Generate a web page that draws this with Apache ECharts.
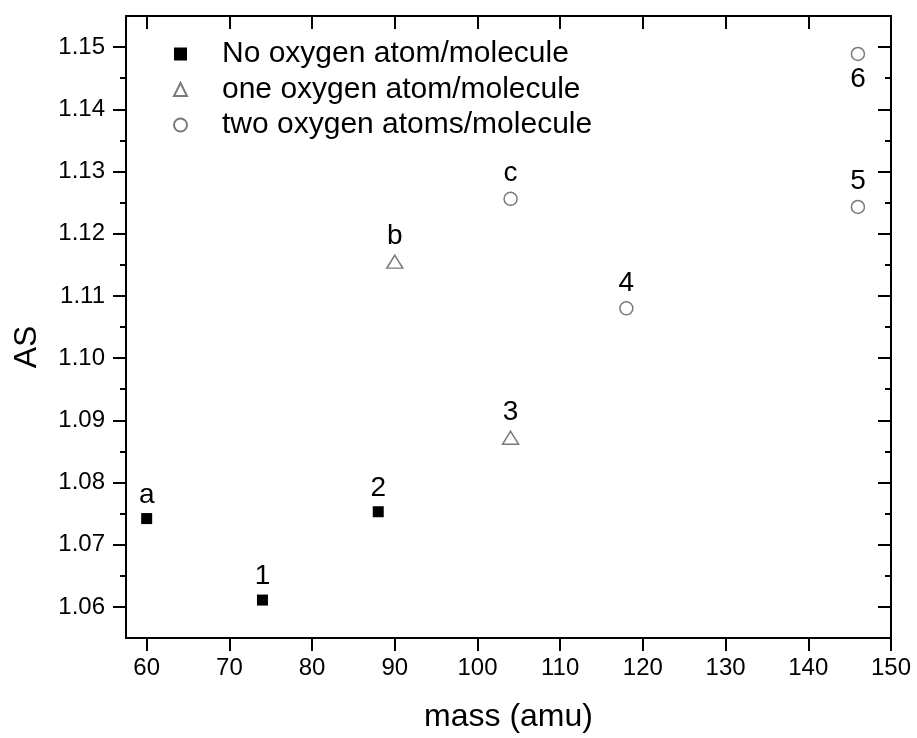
<!DOCTYPE html>
<html>
<head>
<meta charset="utf-8">
<script src="https://cdn.jsdelivr.net/npm/echarts@6/dist/echarts.min.js"></script>
<style>
html,body{margin:0;padding:0;background:#fff;}
#chart{width:917px;height:738px;}
</style>
</head>
<body>
<div id="chart"></div>
<script>
// ---- data ----
const seriesNames = ['No oxygen atom/molecule', 'one oxygen atom/molecule', 'two oxygen atoms/molecule'];
const noOxygen  = [[60, 1.0742, 'a'], [74, 1.0611, '1'], [88, 1.0753, '2']];
const oneOxygen = [[90, 1.1155, 'b'], [104, 1.0872, '3']];
const twoOxygen = [[104, 1.1256, 'c'], [118, 1.1080, '4'], [146, 1.1243, '5'], [146, 1.1489, '6']];
const xTicks = [60, 70, 80, 90, 100, 110, 120, 130, 140, 150];
const yTicks = [1.06, 1.07, 1.08, 1.09, 1.10, 1.11, 1.12, 1.13, 1.14, 1.15];
const yMinorTicks = [1.065, 1.075, 1.085, 1.095, 1.105, 1.115, 1.125, 1.135, 1.145];

const FONT = '"Liberation Sans", Arial, Helvetica, sans-serif';
const X_MIN = 57.5, X_MAX = 150, Y_MIN = 1.055, Y_MAX = 1.155;
const lineStyle = { color: '#000', width: 2 };

function toData(arr, belowNames) {
  return arr.map(d => ({
    value: [d[0], d[1]],
    name: d[2],
    label: { position: (belowNames || []).indexOf(d[2]) >= 0 ? 'bottom' : 'top' }
  }));
}

const labelStyle = {
  show: true,
  formatter: p => p.name,
  fontSize: 28,
  fontFamily: FONT,
  color: '#000',
  distance: 4
};

function yAx(position, values, len, inside, showLine, showLabel) {
  return {
    type: 'value', position: position, min: Y_MIN, max: Y_MAX,
    axisLine: { show: showLine, onZero: false, lineStyle: lineStyle },
    axisTick: { show: true, inside: inside, length: len, customValues: values, lineStyle: { color: '#000', width: 2 } },
    axisLabel: showLabel ? {
      show: true, customValues: values, fontSize: 24, fontFamily: FONT, color: '#000', margin: 21,
      formatter: v => v.toFixed(2)
    } : { show: false },
    splitLine: { show: false }
  };
}

const option = {
  backgroundColor: '#fff',
  animation: false,
  grid: { left: 126, right: 26, top: 16, bottom: 100, containLabel: false },
  legend: {
    orient: 'vertical',
    left: 173, top: 39,
    padding: 0,
    itemWidth: 13, itemHeight: 13,
    itemGap: 5.5,
    textStyle: { fontSize: 30, fontFamily: FONT, color: '#000', lineHeight: 28, padding: [0, 0, 0, 30] },
    data: seriesNames
  },
  xAxis: [
    {
      type: 'value', position: 'bottom', min: X_MIN, max: X_MAX,
      name: 'mass (amu)', nameLocation: 'middle', nameGap: 63,
      nameTextStyle: { fontSize: 32, fontFamily: FONT, color: '#000', lineHeight: 32 },
      axisLine: { show: true, onZero: false, lineStyle: lineStyle },
      axisTick: { show: true, inside: false, length: 13, customValues: xTicks, lineStyle: { color: '#000', width: 2 } },
      axisLabel: { show: true, customValues: xTicks, fontSize: 24, fontFamily: FONT, color: '#000', margin: 18 },
      splitLine: { show: false }
    },
    {
      type: 'value', position: 'top', min: X_MIN, max: X_MAX,
      axisLine: { show: true, onZero: false, lineStyle: lineStyle },
      axisTick: { show: true, inside: true, length: 13, customValues: xTicks, lineStyle: { color: '#000', width: 2 } },
      axisLabel: { show: false },
      splitLine: { show: false }
    }
  ],
  yAxis: [
    Object.assign(yAx('left', yTicks, 13, false, true, true), {
      name: 'AS', nameLocation: 'middle', nameGap: 83, nameRotate: 90,
      nameTextStyle: { fontSize: 32, fontFamily: FONT, color: '#000', lineHeight: 32, padding: [0, 40, 0, 0] }
    }),
    yAx('left', yMinorTicks, 6, false, false, false),
    yAx('right', yTicks, 13, true, true, false),
    yAx('right', yMinorTicks, 6, true, false, false)
  ],
  series: [
    {
      name: seriesNames[0], type: 'scatter', xAxisIndex: 0, yAxisIndex: 0,
      symbol: 'rect', symbolSize: 11,
      itemStyle: { color: '#000', opacity: 1 },
      label: labelStyle,
      data: toData(noOxygen)
    },
    {
      name: seriesNames[1], type: 'scatter', xAxisIndex: 0, yAxisIndex: 0,
      symbol: 'triangle', symbolSize: [16, 13],
      itemStyle: { color: '#fff', borderColor: '#7a7a7a', borderWidth: 1.5, opacity: 1 },
      label: labelStyle,
      data: toData(oneOxygen)
    },
    {
      name: seriesNames[2], type: 'scatter', xAxisIndex: 0, yAxisIndex: 0,
      symbol: 'circle', symbolSize: 13,
      itemStyle: { color: '#fff', borderColor: '#7a7a7a', borderWidth: 1.5, opacity: 1 },
      label: labelStyle,
      data: toData(twoOxygen, ['6'])
    }
  ]
};

const chart = echarts.init(document.getElementById('chart'), null, { renderer: 'canvas' });
chart.setOption(option);
</script>
</body>
</html>
